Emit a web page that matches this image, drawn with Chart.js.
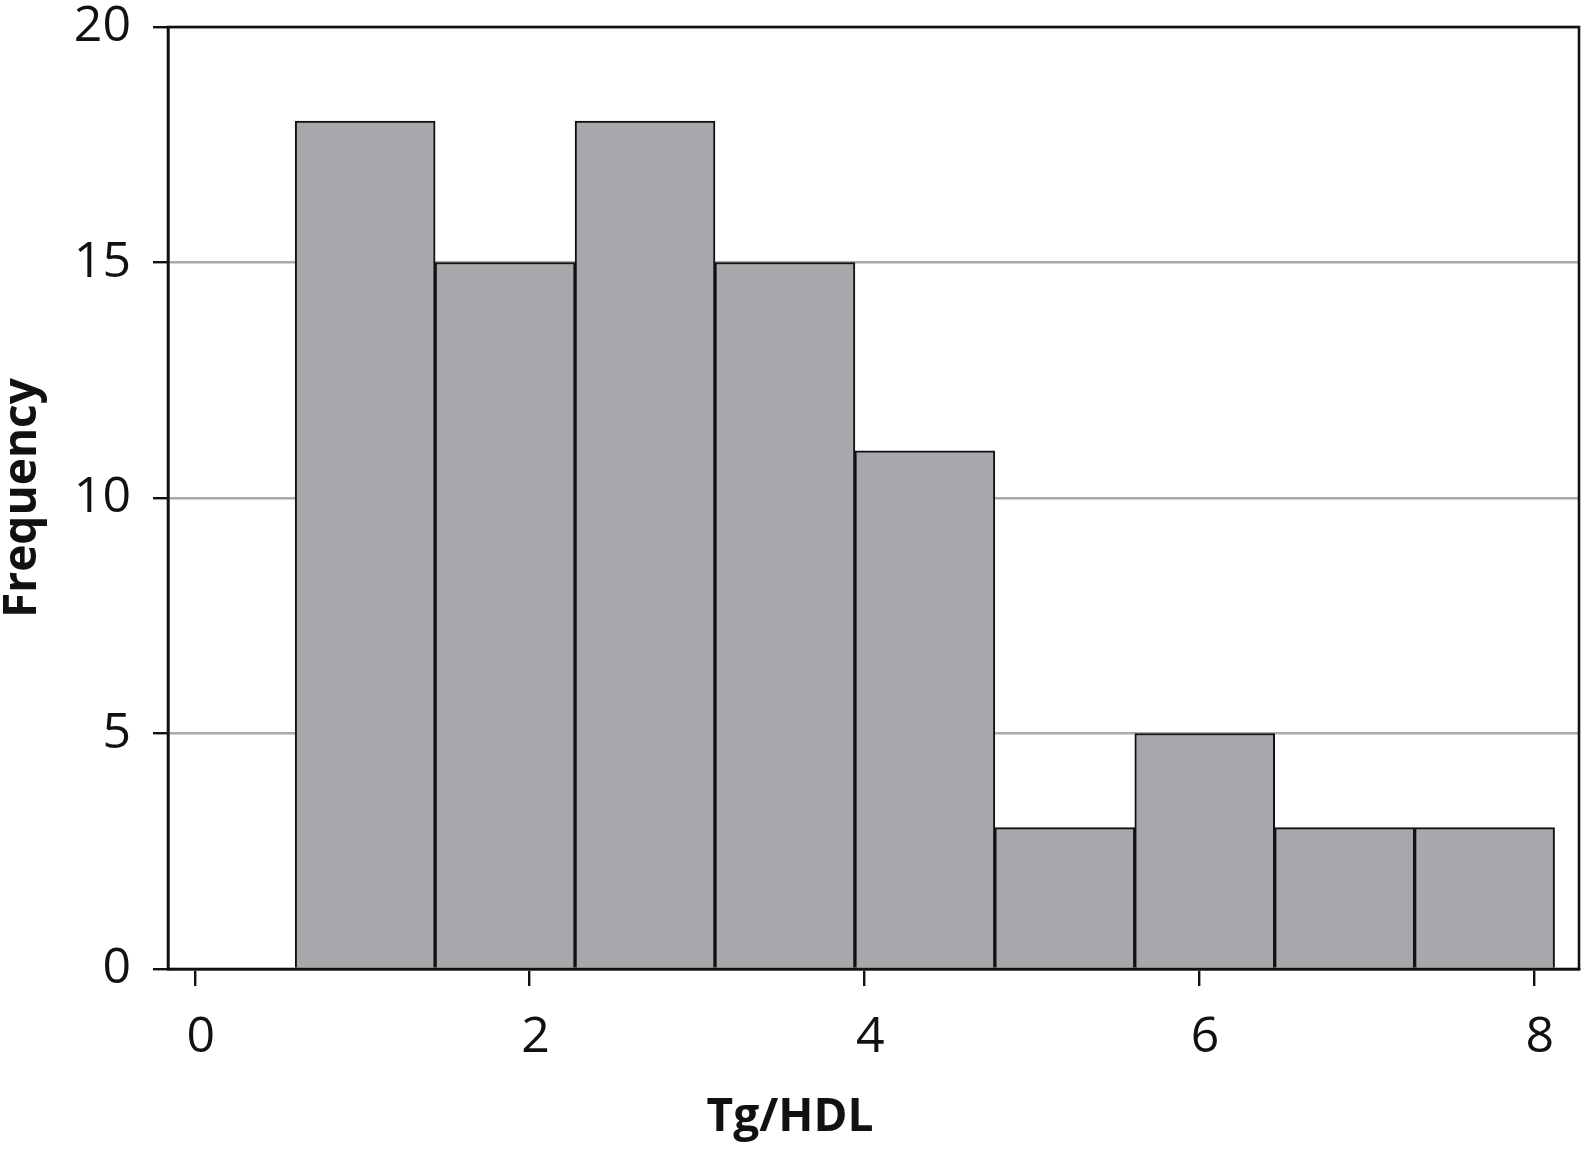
<!DOCTYPE html>
<html>
<head>
<meta charset="utf-8">
<script src="https://cdn.jsdelivr.net/npm/chart.js@4"></script>
<style>
html, body { margin: 0; padding: 0; background: #fff; }
</style>
</head>
<body>
<canvas id="chart" width="1583" height="1150"></canvas>
<script>
// histogram of Tg/HDL, edges
const bin_edges = [0.6, 1.436, 2.272, 3.108, 3.944, 4.78, 5.616, 6.452, 7.288, 8.124]
const frequencies = [18, 15, 18, 15, 11, 3, 5, 3, 3]
const x_ticks = [0, 2, 4, 6, 8]
const y_ticks = [0, 5, 10, 15, 20]
const x_title = 'Tg/HDL'
const y_title = 'Frequency'

let bars = []
for (let i = 0; i < frequencies.length; i ++) {
    bars.push({ x: (bin_edges[i] + bin_edges[i + 1]) / 2, y: frequencies[i] })
}

// box round the plot area plus the x title (which sits left of centre)
const frame_plugin = {
    id: 'frame',
    afterDatasetsDraw(chart) {
        const a = chart.chartArea
        const ctx = chart.ctx
        ctx.save()
        ctx.strokeStyle = '#111'
        ctx.lineWidth = 2.6
        ctx.strokeRect(a.left, a.top, a.right - a.left, a.bottom - a.top)
        ctx.fillStyle = '#111'
        ctx.font = 'bold 46px "Open Sans"'
        ctx.textAlign = 'center'
        ctx.textBaseline = 'middle'
        ctx.fillText(x_title, a.left + 622, 1118)
        ctx.restore()
    }
}

const tick_font = { family: 'Open Sans', size: 50 }
const title_font = { family: 'Open Sans', size: 46, weight: 'bold', lineHeight: 1.0 }

new Chart(document.getElementById('chart'), {
    type: 'bar',
    data: {
        datasets: [{
            data: bars,
            backgroundColor: '#a7a8ab',
            borderColor: '#111',
            borderWidth: 2,
            barPercentage: 1,
            categoryPercentage: 1
        }]
    },
    options: {
        responsive: false,
        animation: false,
        layout: { padding: { top: 27, right: 4, left: 0, bottom: 0 } },
        plugins: { legend: { display: false }, tooltip: { enabled: false } },
        scales: {
            x: {
                type: 'linear',
                offset: false,
                min: -0.16,
                max: 8.27,
                afterBuildTicks: axis => { axis.ticks = x_ticks.map(v => ({ value: v })) },
                afterFit: scale => { scale.height = 181; scale.paddingLeft = 0; scale.paddingRight = 0 },
                grid: {
                    offset: false,
                    drawOnChartArea: false,
                    tickLength: 17,
                    tickColor: '#111',
                    lineWidth: 2.4
                },
                border: { color: '#111', width: 2.6 },
                ticks: { font: tick_font, color: '#111', padding: 22, maxRotation: 0, labelOffset: 6 }
            },
            y: {
                min: 0,
                max: 20,
                afterBuildTicks: axis => { axis.ticks = y_ticks.map(v => ({ value: v })) },
                afterFit: scale => { scale.width = 168; scale.paddingTop = 0; scale.paddingBottom = 0 },
                grid: {
                    color: '#aaaaaa',
                    tickColor: '#111',
                    tickLength: 15,
                    lineWidth: 2.4
                },
                border: { color: '#111', width: 2.6 },
                ticks: { font: tick_font, color: '#111', padding: 22 },
                title: {
                    display: true,
                    text: y_title,
                    font: title_font,
                    color: '#111',
                    padding: { top: 0, bottom: 0 }
                }
            }
        }
    },
    plugins: [frame_plugin]
})
</script>
</body>
</html>
